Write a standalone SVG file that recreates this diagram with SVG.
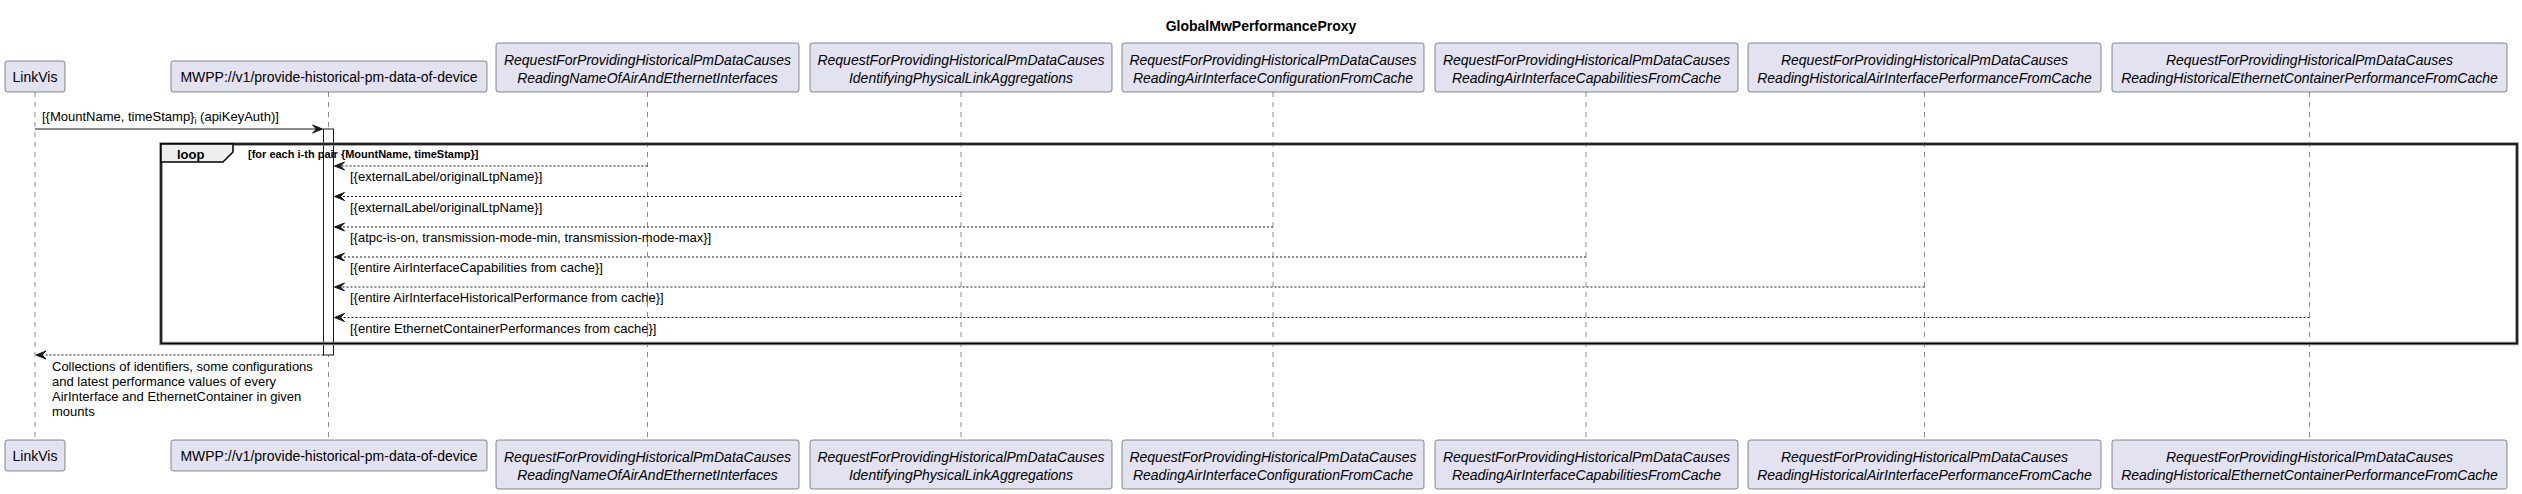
<svg xmlns="http://www.w3.org/2000/svg" width="2522" height="494" viewBox="0 0 2522 494">
<defs>
<style>
.bg{fill:#FFFFFF}
.box{fill:#E2E2F0;stroke:#181818;stroke-width:0.5}
.pt{font-family:"Liberation Sans",Arial,sans-serif;font-size:14px;fill:#000000}
.it{font-style:italic}
.life{stroke:#181818;stroke-width:0.5;stroke-dasharray:5,5;fill:none}
.msg{stroke:#181818;stroke-width:1;fill:none}
.rep{stroke:#181818;stroke-width:1;stroke-dasharray:2,2;fill:none}
.ml{font-family:"Liberation Sans",Arial,sans-serif;font-size:13px;fill:#000000}
.head{fill:#181818;stroke:#181818;stroke-width:1}
.act{fill:#FFFFFF;stroke:#181818;stroke-width:1}
.title{font-family:"Liberation Sans",Arial,sans-serif;font-size:14px;font-weight:bold;fill:#000000}
.lt{font-family:"Liberation Sans",Arial,sans-serif;font-size:13px;font-weight:bold;fill:#000000}
.lc{font-family:"Liberation Sans",Arial,sans-serif;font-size:11px;font-weight:bold;fill:#000000}
</style>
</defs>
<rect class="bg" x="0" y="0" width="2522" height="494"/>
<text class="title" x="1261" y="30.5" text-anchor="middle">GlobalMwPerformanceProxy</text>

<g id="lifelines">
<line class="life" x1="35" y1="92" x2="35" y2="440"/>
<line class="life" x1="328.5" y1="92" x2="328.5" y2="440"/>
<line class="life" x1="647.5" y1="92" x2="647.5" y2="440"/>
<line class="life" x1="961" y1="92" x2="961" y2="440"/>
<line class="life" x1="1273" y1="92" x2="1273" y2="440"/>
<line class="life" x1="1586" y1="92" x2="1586" y2="440"/>
<line class="life" x1="1924.5" y1="92" x2="1924.5" y2="440"/>
<line class="life" x1="2309.5" y1="92" x2="2309.5" y2="440"/>
</g>

<g id="LinkVis">
<rect class="box" x="5" y="61" width="60" height="31" rx="2.5"/>
<text class="pt" x="35" y="82" text-anchor="middle">LinkVis</text>
<rect class="box" x="5" y="440" width="60" height="31" rx="2.5"/>
<text class="pt" x="35" y="461" text-anchor="middle">LinkVis</text>
</g>

<g id="MWPP">
<rect class="box" x="171" y="61" width="316" height="31" rx="2.5"/>
<text class="pt" x="329" y="82" text-anchor="middle">MWPP://v1/provide-historical-pm-data-of-device</text>
<rect class="box" x="171" y="440" width="316" height="31" rx="2.5"/>
<text class="pt" x="329" y="461" text-anchor="middle">MWPP://v1/provide-historical-pm-data-of-device</text>
</g>

<g id="ReadingNameOfAirAndEthernetInterfaces">
<rect class="box" x="496" y="43" width="303" height="49" rx="2.5"/>
<text class="pt it" x="647.5" y="65" text-anchor="middle">RequestForProvidingHistoricalPmDataCauses</text>
<text class="pt it" x="647.5" y="82.5" text-anchor="middle">ReadingNameOfAirAndEthernetInterfaces</text>
<rect class="box" x="496" y="440" width="303" height="49" rx="2.5"/>
<text class="pt it" x="647.5" y="462" text-anchor="middle">RequestForProvidingHistoricalPmDataCauses</text>
<text class="pt it" x="647.5" y="479.5" text-anchor="middle">ReadingNameOfAirAndEthernetInterfaces</text>
</g>

<g id="IdentifyingPhysicalLinkAggregations">
<rect class="box" x="810" y="43" width="302" height="49" rx="2.5"/>
<text class="pt it" x="961" y="65" text-anchor="middle">RequestForProvidingHistoricalPmDataCauses</text>
<text class="pt it" x="961" y="82.5" text-anchor="middle">IdentifyingPhysicalLinkAggregations</text>
<rect class="box" x="810" y="440" width="302" height="49" rx="2.5"/>
<text class="pt it" x="961" y="462" text-anchor="middle">RequestForProvidingHistoricalPmDataCauses</text>
<text class="pt it" x="961" y="479.5" text-anchor="middle">IdentifyingPhysicalLinkAggregations</text>
</g>

<g id="ReadingAirInterfaceConfigurationFromCache">
<rect class="box" x="1122" y="43" width="302" height="49" rx="2.5"/>
<text class="pt it" x="1273" y="65" text-anchor="middle">RequestForProvidingHistoricalPmDataCauses</text>
<text class="pt it" x="1273" y="82.5" text-anchor="middle">ReadingAirInterfaceConfigurationFromCache</text>
<rect class="box" x="1122" y="440" width="302" height="49" rx="2.5"/>
<text class="pt it" x="1273" y="462" text-anchor="middle">RequestForProvidingHistoricalPmDataCauses</text>
<text class="pt it" x="1273" y="479.5" text-anchor="middle">ReadingAirInterfaceConfigurationFromCache</text>
</g>

<g id="ReadingAirInterfaceCapabilitiesFromCache">
<rect class="box" x="1435" y="43" width="303" height="49" rx="2.5"/>
<text class="pt it" x="1586.5" y="65" text-anchor="middle">RequestForProvidingHistoricalPmDataCauses</text>
<text class="pt it" x="1586.5" y="82.5" text-anchor="middle">ReadingAirInterfaceCapabilitiesFromCache</text>
<rect class="box" x="1435" y="440" width="303" height="49" rx="2.5"/>
<text class="pt it" x="1586.5" y="462" text-anchor="middle">RequestForProvidingHistoricalPmDataCauses</text>
<text class="pt it" x="1586.5" y="479.5" text-anchor="middle">ReadingAirInterfaceCapabilitiesFromCache</text>
</g>

<g id="ReadingHistoricalAirInterfacePerformanceFromCache">
<rect class="box" x="1748" y="43" width="353" height="49" rx="2.5"/>
<text class="pt it" x="1924.5" y="65" text-anchor="middle">RequestForProvidingHistoricalPmDataCauses</text>
<text class="pt it" x="1924.5" y="82.5" text-anchor="middle">ReadingHistoricalAirInterfacePerformanceFromCache</text>
<rect class="box" x="1748" y="440" width="353" height="49" rx="2.5"/>
<text class="pt it" x="1924.5" y="462" text-anchor="middle">RequestForProvidingHistoricalPmDataCauses</text>
<text class="pt it" x="1924.5" y="479.5" text-anchor="middle">ReadingHistoricalAirInterfacePerformanceFromCache</text>
</g>

<g id="ReadingHistoricalEthernetContainerPerformanceFromCache">
<rect class="box" x="2112" y="43" width="395" height="49" rx="2.5"/>
<text class="pt it" x="2309.5" y="65" text-anchor="middle">RequestForProvidingHistoricalPmDataCauses</text>
<text class="pt it" x="2309.5" y="82.5" text-anchor="middle">ReadingHistoricalEthernetContainerPerformanceFromCache</text>
<rect class="box" x="2112" y="440" width="395" height="49" rx="2.5"/>
<text class="pt it" x="2309.5" y="462" text-anchor="middle">RequestForProvidingHistoricalPmDataCauses</text>
<text class="pt it" x="2309.5" y="479.5" text-anchor="middle">ReadingHistoricalEthernetContainerPerformanceFromCache</text>
</g>

<g id="activation">
<rect class="act" x="323.5" y="129" width="10" height="226"/>
</g>

<g id="loop">
<rect x="161" y="144" width="2356" height="199.5" fill="none" stroke="#8C8C8C" stroke-width="3.5"/>
<rect x="161" y="144" width="2356" height="199.5" fill="none" stroke="#000000" stroke-width="1.5"/>
<polygon points="161,144 233,144 233,152 223,162 161,162" fill="#EEEEEE" stroke="#000000" stroke-width="1.5"/>
<text class="lt" x="177" y="158.5">loop</text>
<text class="lc" x="248" y="157.5">[for each i-th pair {MountName, timeStamp}]</text>
</g>

<g id="connectors">
<line class="msg" x1="35" y1="129" x2="321.5" y2="129"/>
<polygon class="head" points="322.5,129 312.5,125 316.5,129 312.5,133"/>
<text class="ml" x="42" y="121">[{MountName, timeStamp}<tspan font-size="9" dy="3">i</tspan><tspan dy="-3"> (apiKeyAuth)]</tspan></text>

<line class="rep" x1="647.5" y1="166" x2="336" y2="166"/>
<polygon class="head" points="334.5,166 344.5,162 340.5,166 344.5,170"/>
<text class="ml" x="350" y="181">[{externalLabel/originalLtpName}]</text>

<line class="rep" x1="961" y1="196.5" x2="336" y2="196.5"/>
<polygon class="head" points="334.5,196.5 344.5,192.5 340.5,196.5 344.5,200.5"/>
<text class="ml" x="350" y="211.5">[{externalLabel/originalLtpName}]</text>

<line class="rep" x1="1273" y1="227" x2="336" y2="227"/>
<polygon class="head" points="334.5,227 344.5,223 340.5,227 344.5,231"/>
<text class="ml" x="350" y="242">[{atpc-is-on, transmission-mode-min, transmission-mode-max}]</text>

<line class="rep" x1="1586" y1="257" x2="336" y2="257"/>
<polygon class="head" points="334.5,257 344.5,253 340.5,257 344.5,261"/>
<text class="ml" x="350" y="272">[{entire AirInterfaceCapabilities from cache}]</text>

<line class="rep" x1="1924.5" y1="287" x2="336" y2="287"/>
<polygon class="head" points="334.5,287 344.5,283 340.5,287 344.5,291"/>
<text class="ml" x="350" y="302">[{entire AirInterfaceHistoricalPerformance from cache}]</text>

<line class="rep" x1="2309.5" y1="317.5" x2="336" y2="317.5"/>
<polygon class="head" points="334.5,317.5 344.5,313.5 340.5,317.5 344.5,321.5"/>
<text class="ml" x="350" y="333">[{entire EthernetContainerPerformances from cache}]</text>

<line class="rep" x1="323.5" y1="355" x2="37" y2="355"/>
<polygon class="head" points="36,355 46,351 42,355 46,359"/>
<text class="ml" x="52" y="370.5">Collections of identifiers, some configurations</text>
<text class="ml" x="52" y="385.7">and latest performance values of every</text>
<text class="ml" x="52" y="400.9">AirInterface and EthernetContainer in given</text>
<text class="ml" x="52" y="416.1">mounts</text>
</g>
</svg>
